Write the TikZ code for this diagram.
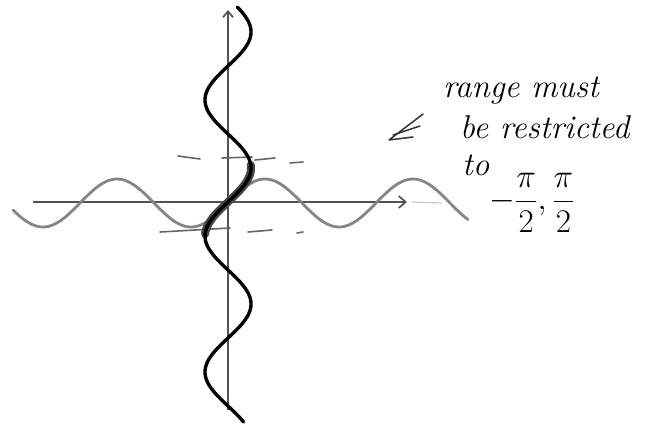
\documentclass[tikz,border=0pt]{standalone}
\usepackage{graphicx}
\usetikzlibrary{arrows.meta}
\begin{document}
\begin{tikzpicture}[x=1pt,y=-1pt,
  axis/.style={draw=black!68, line width=1.7pt},
  sinewave/.style={draw=black!48, line width=2.8pt, line cap=round},
  inverse/.style={draw=black, line width=3.4pt, line cap=round},
  band/.style={draw=black!72, line width=8pt, line cap=round},
  bound/.style={draw=black!60, line width=1.6pt, line cap=round},
  note/.style={font=\fontsize{33}{36}\selectfont\itshape, inner sep=0pt, anchor=base west},
  pen/.style={draw=black!80, line width=1.5pt, line cap=round, line join=round},
]
\useasboundingbox (0,0) rectangle (660,425);
% axes
\coordinate (ytop) at (228,10);
\coordinate (ybot) at (228,410);
\coordinate (xl) at (33,202);
\coordinate (xr) at (407,202);
\coordinate (xfade) at (442,203);
\draw[axis, -{Straight Barb[length=6pt,width=10pt]}] (ybot) -- (ytop);
\draw[axis, -{Straight Barb[length=7pt,width=12pt]}] (xl) -- (xr);
\draw[draw=black!22, line width=1.2pt] (xr) ++(5,0) -- (xfade);
% sine wave (grey)
\draw[sinewave] plot[domain=13:468, samples=220] (\x, {203-24*sin((\x-228)/74*180)});
% restriction marks
\draw[bound] (178,156) -- (200,159);
\draw[bound] (222,158) -- (252,157);
\draw[bound] (255,160) -- (275,158);
\draw[bound] (290,163) -- (303,162);
\draw[bound] (160,232) -- (230,228);
\draw[bound] (248,232) -- (272,230);
\draw[bound] (297,233) -- (303,232);
% highlighted restricted part
\draw[band] plot[domain=165:234, samples=60, variable=\t] ({228-23*sin((\t-202)/68*180)}, \t);
% inverse curve (black)
\draw[inverse] plot[domain=7:422, samples=260, variable=\t] ({228-23*sin((\t-202)/68*180)}, \t);
% note
\coordinate (ah1) at (423,114);
\coordinate (atip) at (389,140);
\coordinate (ah2) at (413,137);
\coordinate (as1) at (393,135);
\coordinate (as2) at (420,126);
\draw[pen] (ah1) -- (atip) -- (ah2);
\draw[pen] (as1) -- (as2);
\node[note] (l1) at (443,97) {range must};
\node[note] (l2) at (460,138) {be restricted};
\node[note] (l3) at (462,175) {to};
\node[font=\fontsize{24.88}{28}\selectfont, inner sep=0pt] (l4) at (532,203) {\scalebox{1.33}{$\displaystyle -\frac{\pi}{2},\frac{\pi}{2}$}};
\end{tikzpicture}
\end{document}
